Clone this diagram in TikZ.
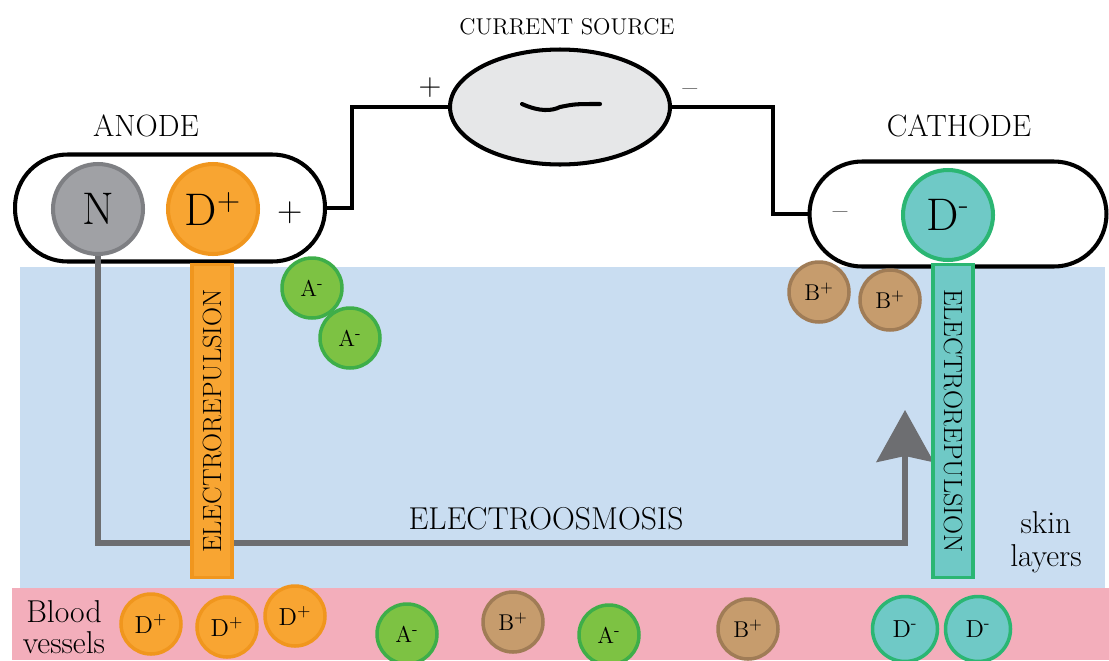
\documentclass[tikz,border=0pt]{standalone}
\usepackage{tikz}
\usetikzlibrary{shapes.geometric,arrows.meta}
\definecolor{skinBlue}{HTML}{C9DDF1}
\definecolor{bloodPink}{HTML}{F3AEBB}
\definecolor{nGray}{HTML}{A0A1A5}
\definecolor{nGrayDark}{HTML}{7E7F83}
\definecolor{dOrange}{HTML}{F8A532}
\definecolor{dOrangeDark}{HTML}{F0961E}
\definecolor{dTeal}{HTML}{6FC9C6}
\definecolor{dGreen}{HTML}{2BB673}
\definecolor{aGreen}{HTML}{7DC243}
\definecolor{aGreenDark}{HTML}{3EAE49}
\definecolor{bBrown}{HTML}{C69C6D}
\definecolor{bBrownDark}{HTML}{A07C56}
\definecolor{srcGray}{HTML}{E6E7E8}
\definecolor{osmGray}{HTML}{6D6E71}

\begin{document}
\begin{tikzpicture}[x=0.02cm, y=-0.02cm,
  capsule/.style={draw=black, line width=2.3pt, fill=white, rounded corners=1.05cm, inner sep=0pt},
  wire/.style={line width=2.3pt, black},
  bigion/.style={circle, line width=2.3pt, inner sep=0pt, minimum size=1.8cm, font=\fontsize{26}{28}\selectfont},
  ion/.style={circle, line width=2pt, inner sep=0pt, minimum size=1.2cm, font=\fontsize{13}{14}\selectfont},
  Aion/.style={ion, draw=aGreenDark, fill=aGreen},
  Bion/.style={ion, draw=bBrownDark, fill=bBrown},
  Dpion/.style={ion, draw=dOrangeDark, fill=dOrange, font=\fontsize{14}{15}\selectfont},
  Dmion/.style={ion, draw=dGreen, fill=dTeal, minimum size=1.3cm, font=\fontsize{14}{15}\selectfont},
  repbox/.style={line width=1.8pt, inner sep=0pt, minimum width=6.26cm, minimum height=0.8cm, font=\fontsize{15}{16}\selectfont},
  label/.style={font=\fontsize{17.5}{19}\selectfont},
  osmosis/.style={line width=3pt, osmGray, -{Stealth[length=1.04cm, width=1.14cm, inset=0.12cm]}}]
\useasboundingbox (0,0) rectangle (1109,660);
\fill[white] (0,0) rectangle (1109,660);
\fill[skinBlue] (20,267) rectangle (1105,588);
\fill[bloodPink] (12,588) rectangle (1109,660);

\node[capsule, minimum width=6.2cm, minimum height=2.14cm] (anode) at (170,208) {};
\node[capsule, minimum width=5.94cm, minimum height=2.1cm] (cathode) at (958,214) {};
\node[ellipse, draw=black, line width=2.3pt, fill=srcGray, minimum width=4.4cm, minimum height=2.3cm] (src) at (560,107) {};
\draw[wire] (anode.east) -| (352,107) -- (src.west);
\draw[wire] (src.east) -- (773,107) |- (cathode.west);
\draw[line width=2.3pt, line cap=round] (522,104) .. controls (540,112) and (552,111) .. (560,107) .. controls (575,104) .. (600,104);

\node[font=\fontsize{13}{14}\selectfont] (srcLabel) at (567,27) {CURRENT SOURCE};
\node[font=\fontsize{18}{19}\selectfont] (srcPlus) at (430,88) {+};
\node[font=\fontsize{18}{19}\selectfont] (srcMinus) at (690,93) {--};
\node[label] (anodeLabel) at (146,126) {ANODE};
\node[label] (cathodeLabel) at (959,126) {CATHODE};
\node[font=\fontsize{20}{21}\selectfont] (anodePlus) at (290,213) {+};
\node[font=\fontsize{18}{19}\selectfont] (cathodeMinus) at (840,216) {--};

\node[bigion, draw=nGrayDark, fill=nGray] (N) at (98,209) {N};
\node[bigion, draw=dOrangeDark, fill=dOrange] (Dp) at (213,209) {D\textsuperscript{+}};

\coordinate (osmCorner) at (905,543);
\coordinate (osmTip) at (905,410);
\draw[osmosis] (N.south) |- (osmCorner) -- (osmTip);
\node[font=\fontsize{18}{19}\selectfont] (osmLabel) at (546,519) {ELECTROOSMOSIS};

\node[repbox, draw=dOrangeDark, fill=dOrange, rotate=90] (repLeft) at (212,421) {ELECTROREPULSION};
\node[repbox, draw=dGreen, fill=dTeal, rotate=-90] (repRight) at (953,421) {ELECTROREPULSION};
\node[bigion, draw=dGreen, fill=dTeal] (Dm) at (948,215) {D\textsuperscript{-}};

\node[Aion] (a1) at (312,288) {A\textsuperscript{-}};
\node[Aion] (a2) at (350,338) {A\textsuperscript{-}};
\node[Bion] (b1) at (819,292) {B\textsuperscript{+}};
\node[Bion] (b2) at (890,300) {B\textsuperscript{+}};

\node[font=\fontsize{18}{19}\selectfont, align=center] (skin) at (1046,542) {skin\\layers};
\node[font=\fontsize{18}{18}\selectfont, align=center] (blood) at (64,627) {Blood\\vessels};

\node[Dpion] (dp1) at (151,624) {D\textsuperscript{+}};
\node[Dpion] (dp2) at (227,627) {D\textsuperscript{+}};
\node[Dpion] (dp3) at (295,616) {D\textsuperscript{+}};
\node[Aion] (a3) at (407,634) {A\textsuperscript{-}};
\node[Bion] (b3) at (513,622) {B\textsuperscript{+}};
\node[Aion] (a4) at (609,635) {A\textsuperscript{-}};
\node[Bion] (b4) at (748,629) {B\textsuperscript{+}};
\node[Dmion] (dm1) at (905,629) {D\textsuperscript{-}};
\node[Dmion] (dm2) at (978,629) {D\textsuperscript{-}};
\end{tikzpicture}
\end{document}
